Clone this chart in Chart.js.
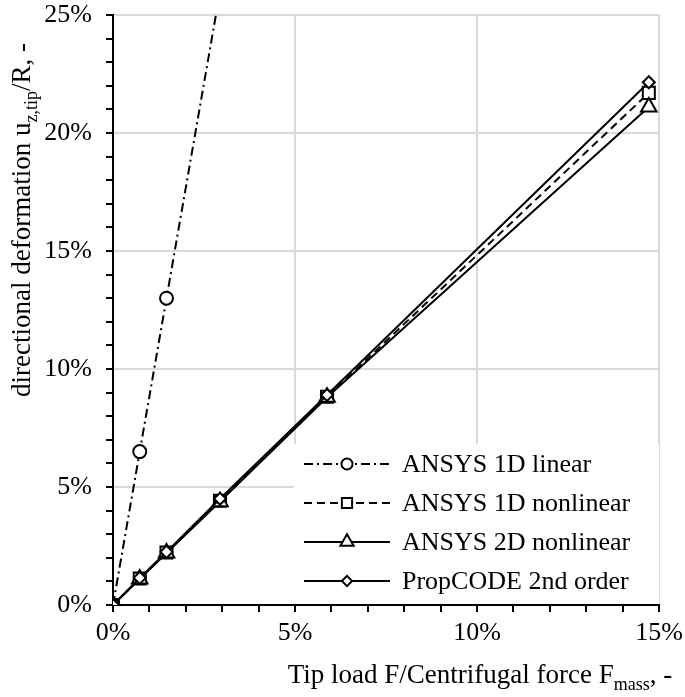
<!DOCTYPE html>
<html>
<head>
<meta charset="utf-8">
<script src="https://cdn.jsdelivr.net/npm/chart.js@4"></script>
<style>
  html, body { margin: 0; padding: 0; background: #fff; }
  #wrap { width: 685px; height: 697px; }
</style>
</head>
<body>
<div id="wrap"><canvas id="deform"></canvas></div>
<script>
// ---- data (percent) ----
const loadRatio = [0, 0.735, 1.47, 2.94, 5.88, 14.72];
const ansys1dLinear = [0, 6.5, 13.0, 26.0];
const ansys1dNonlinear = [0, 1.12, 2.22, 4.42, 8.82, 21.7];
const ansys2dNonlinear = [0, 1.1, 2.2, 4.38, 8.8, 21.1];
const propCode2nd = [0, 1.15, 2.25, 4.5, 8.9, 22.15];
const xTickLabels = ['0%', '5%', '10%', '15%'];
const yTickLabels = ['0%', '5%', '10%', '15%', '20%', '25%'];

const FONT = '"Liberation Serif", "DejaVu Serif", serif';

const pairs = ys => ys.map((y, i) => ({ x: loadRatio[i], y: y }));

// ---- series ----
const series = [
    { label: 'ANSYS 1D linear', data: pairs(ansys1dLinear), dash: [9, 4, 2, 4], pointStyle: 'circle', pointRadius: 6.5 },
    { label: 'ANSYS 1D nonlinear', data: pairs(ansys1dNonlinear), dash: [8, 5], pointStyle: 'rect', pointRadius: 8.5 },
    { label: 'ANSYS 2D nonlinear', data: pairs(ansys2dNonlinear), dash: [], pointStyle: 'triangle', pointRadius: 9 },
    { label: 'PropCODE 2nd order', data: pairs(propCode2nd), dash: [], pointStyle: 'rectRot', pointRadius: 6 }
];

// legend box inside plot, bottom right (drawn under the lines, over the grid)
const insideLegend = {
    id: 'insideLegend',
    beforeDatasetsDraw(chart) {
        const { ctx, chartArea } = chart;
        const left = 294, top = 444;
        ctx.save();
        ctx.fillStyle = '#fff';
        ctx.fillRect(left, top, chartArea.right - left, chartArea.bottom - 1 - top);
        ctx.font = '26px ' + FONT;
        ctx.textBaseline = 'middle';
        chart.data.datasets.forEach((ds, i) => {
            const y = 464 + i * 39;
            ctx.strokeStyle = '#000';
            ctx.lineWidth = 2;
            ctx.setLineDash(ds.borderDash || []);
            ctx.beginPath();
            ctx.moveTo(304, y);
            ctx.lineTo(390, y);
            ctx.stroke();
            ctx.setLineDash([]);
            ctx.fillStyle = '#fff';
            Chart.helpers.drawPoint(ctx, { pointStyle: ds.pointStyle, radius: ds.pointRadius * 0.85, borderWidth: 2 }, 347, y);
            ctx.fillStyle = '#000';
            ctx.fillText(ds.label, 402, y + 1);
        });
        ctx.restore();
    }
};

// axis titles with subscripts
function drawSub(ctx, parts, x, y) {
    // parts: [text, isSub]
    const big = '27px ' + FONT, small = '18px ' + FONT;
    let total = 0;
    parts.forEach(p => { ctx.font = p[1] ? small : big; total += ctx.measureText(p[0]).width; });
    let cx = x - total / 2;
    parts.forEach(p => {
        ctx.font = p[1] ? small : big;
        ctx.fillText(p[0], cx, p[1] ? y + 7 : y);
        cx += ctx.measureText(p[0]).width;
    });
}

const axisTitles = {
    id: 'axisTitles',
    afterDraw(chart) {
        const { ctx } = chart;
        ctx.save();
        ctx.fillStyle = '#000';
        ctx.textBaseline = 'alphabetic';
        drawSub(ctx, [['Tip load F/Centrifugal force F', false], ['mass', true], [', -', false]], 480, 683);
        ctx.translate(30, 220);
        ctx.rotate(-Math.PI / 2);
        drawSub(ctx, [['directional deformation u', false], ['z,tip', true], ['/R, -', false]], 0, 0);
        ctx.restore();
    }
};

const gridColor = c => (c.tick && c.tick.value % 5 === 0 && c.tick.value !== 0) ? '#d9d9d9' : 'rgba(0,0,0,0)';

const ctx = document.getElementById('deform').getContext('2d');
const deformChart = new Chart(ctx, {
    type: 'line',
    data: {
        datasets: series.map((s, i) => ({
            label: s.label,
            data: s.data,
            borderColor: '#000',
            borderWidth: 2,
            borderDash: s.dash,
            pointStyle: s.pointStyle,
            pointRadius: s.pointRadius,
            pointHoverRadius: s.pointRadius,
            pointBackgroundColor: '#fff',
            pointBorderColor: '#000',
            pointBorderWidth: 2,
            fill: false,
            tension: 0,
            order: 4 - i
        }))
    },
    options: {
        responsive: true,
        maintainAspectRatio: false,
        animation: false,
        layout: { padding: { top: 15, right: 26, left: 0, bottom: 0 } },
        plugins: { legend: { display: false }, tooltip: { enabled: false } },
        scales: {
            x: {
                type: 'linear', min: 0, max: 15,
                afterFit: s => { s.height = 92; s.paddingLeft = 0; s.paddingRight = 0; },
                border: { color: '#000', width: 2 },
                grid: { color: gridColor, lineWidth: 2, tickColor: '#000', tickLength: 7 },
                ticks: {
                    stepSize: 1, autoSkip: false, maxRotation: 0, padding: 6, color: '#000',
                    font: { family: FONT, size: 26 },
                    callback: v => v % 5 === 0 ? xTickLabels[v / 5] : ''
                }
            },
            y: {
                type: 'linear', min: 0, max: 25,
                afterFit: s => { s.width = 113; s.paddingTop = 0; s.paddingBottom = 0; },
                border: { color: '#000', width: 2 },
                grid: { color: gridColor, lineWidth: 2, tickColor: '#000', tickLength: 7 },
                ticks: {
                    stepSize: 1, autoSkip: false, padding: 14, color: '#000',
                    font: { family: FONT, size: 26 },
                    callback: v => v % 5 === 0 ? yTickLabels[v / 5] : ''
                }
            }
        }
    },
    plugins: [insideLegend, axisTitles]
});
</script>
</body>
</html>
